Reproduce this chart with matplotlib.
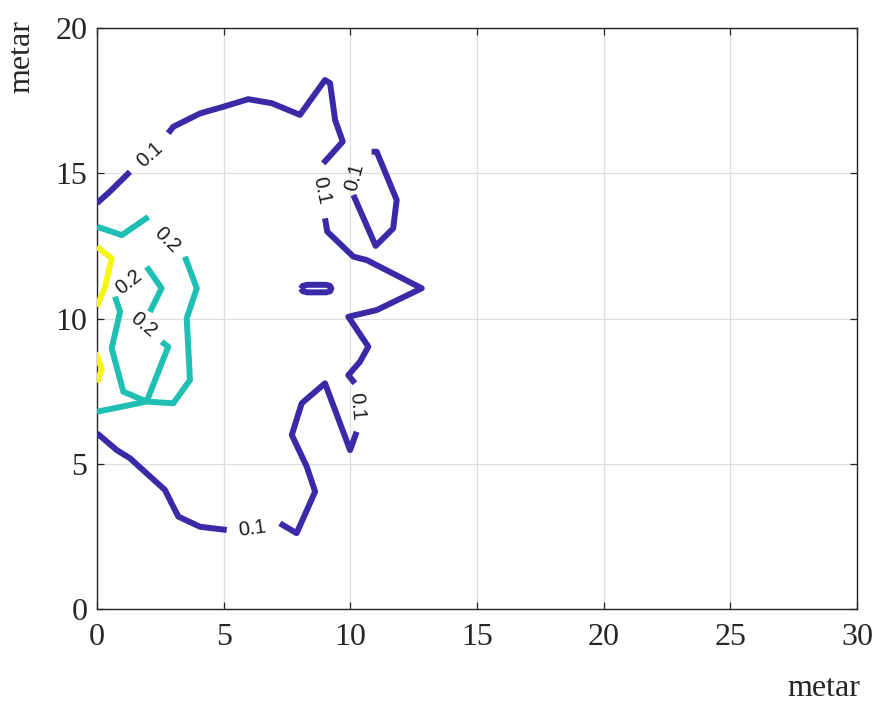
import matplotlib
matplotlib.use("Agg")
import matplotlib.pyplot as plt

# ---- data: contour polylines (data coordinates) ----
# level 0.1 (blue)
b1a_x = [0.00, 0.51, 1.30]
b1a_y = [13.97, 14.37, 15.05]
b1b_x = [2.81, 3.01, 4.07, 4.99, 5.97, 6.90, 8.01, 9.00, 9.20, 9.40, 9.70, 8.93]
b1b_y = [16.38, 16.60, 17.06, 17.29, 17.55, 17.41, 17.01, 18.21, 18.10, 16.83, 16.09, 15.34]
b1c_x = [9.00, 9.09, 10.12, 10.65, 12.82, 11.04, 9.92, 10.71, 10.38, 9.92, 10.18]
b1c_y = [13.45, 12.99, 12.13, 12.01, 11.04, 10.29, 10.06, 9.03, 8.51, 8.05, 7.77]
b1d_x = [10.25, 9.99, 9.00, 8.08, 7.69, 8.28, 8.61, 7.88, 7.22]
b1d_y = [6.10, 5.47, 7.77, 7.08, 5.99, 4.90, 4.04, 2.61, 2.95]
b1e_x = [5.12, 4.07, 3.21, 2.88, 2.68, 1.30, 0.78, 0.00]
b1e_y = [2.72, 2.83, 3.18, 3.75, 4.10, 5.19, 5.47, 6.05]
b2_x = [10.84, 11.04, 11.83, 11.69, 11.00, 10.12]
b2_y = [15.74, 15.74, 14.08, 13.10, 12.50, 14.25]
b3_x = [8.05, 8.12, 8.30, 9.05, 9.20, 9.25, 9.20, 9.05, 8.30, 8.12, 8.05]
b3_y = [11.03, 11.12, 11.16, 11.16, 11.12, 11.03, 10.94, 10.90, 10.90, 10.94, 11.03]

# level 0.2 (teal)
t1a_x = [0.00, 0.98, 2.03]
t1a_y = [13.16, 12.87, 13.50]
t1b_x = [3.47, 3.94, 3.54, 3.67, 3.01, 1.96, 0.00]
t1b_y = [12.13, 11.04, 10.01, 7.88, 7.08, 7.14, 6.79]
t2a_x = [1.96, 2.55, 2.09]
t2a_y = [11.78, 11.04, 10.23]
t2b_x = [2.55, 2.81, 1.96]
t2b_y = [9.20, 9.03, 7.14]
t3_x = [0.71, 0.91, 0.58, 1.04, 1.96]
t3_y = [10.75, 10.23, 8.97, 7.48, 7.14]

# level 0.3 (yellow)
y1_x = [0.00, 0.58, 0.32, 0.00]
y1_y = [12.47, 12.07, 11.09, 10.41]
y2_x = [-0.05, 0.19, 0.00]
y2_y = [8.83, 8.26, 7.80]

# contour labels: text, x, y, rotation
label_text = ["0.1", "0.1", "0.1", "0.1", "0.1", "0.2", "0.2", "0.2"]
label_x = [2.09, 8.87, 10.18, 10.25, 6.11, 2.75, 1.24, 1.83]
label_y = [15.63, 14.42, 14.88, 6.96, 2.78, 12.71, 11.27, 9.78]
label_rot = [42, -78, 75, -85, 8, -45, 38, -40]

xticks = [0, 5, 10, 15, 20, 25, 30]
yticks = [0, 5, 10, 15, 20]

blue = "#3b2aa8"
teal = "#1fbfb3"
yellow = "#f6f514"

fig = plt.figure(figsize=(8.8, 7.03), dpi=100)
ax = fig.add_axes([97 / 880, 1 - 609 / 703, 760 / 880, 581 / 703])

lw = 4.3
kw = dict(lw=lw, solid_joinstyle="round", solid_capstyle="butt", zorder=3)
for xs, ys in [(b1a_x, b1a_y), (b1b_x, b1b_y), (b1c_x, b1c_y), (b1d_x, b1d_y),
               (b1e_x, b1e_y), (b2_x, b2_y), (b3_x, b3_y)]:
    ax.plot(xs, ys, color=blue, **kw)
for xs, ys in [(t1a_x, t1a_y), (t1b_x, t1b_y), (t2a_x, t2a_y), (t2b_x, t2b_y), (t3_x, t3_y)]:
    ax.plot(xs, ys, color=teal, **kw)
for xs, ys in [(y1_x, y1_y), (y2_x, y2_y)]:
    ax.plot(xs, ys, color=yellow, **kw)

for t, x, y, r in zip(label_text, label_x, label_y, label_rot):
    ax.text(x, y, t, rotation=r, rotation_mode="anchor", ha="center", va="center",
            fontsize=14.5, family="Liberation Sans", color="#1a1a1a", zorder=4)

ax.set_xlim(0, 30)
ax.set_ylim(0, 20)
ax.set_xticks(xticks)
ax.set_yticks(yticks)
ax.set_xticklabels([str(v) for v in xticks], family="Liberation Serif", fontsize=23, color="#262626")
ax.set_yticklabels([str(v) for v in yticks], family="Liberation Serif", fontsize=23, color="#262626")
ax.tick_params(direction="in", length=5, width=0.9, top=True, right=True, colors="#262626")
ax.tick_params(axis="x", pad=10)
ax.tick_params(axis="y", pad=7)
ax.grid(True, color="#dedede", lw=0.9)
ax.set_axisbelow(True)
for s in ax.spines.values():
    s.set_color("#262626")
    s.set_linewidth(1.0)

ax.set_xlabel("metar", family="Liberation Serif", fontsize=23, color="#262626")
ax.xaxis.set_label_coords((824 - 97) / 760, (609 - 674) / 581)
ax.set_ylabel("metar", family="Liberation Serif", fontsize=23, color="#262626")
ax.yaxis.set_label_coords((36 - 97) / 760, (609 - 57) / 581)

fig.savefig("out.png", dpi=100)
